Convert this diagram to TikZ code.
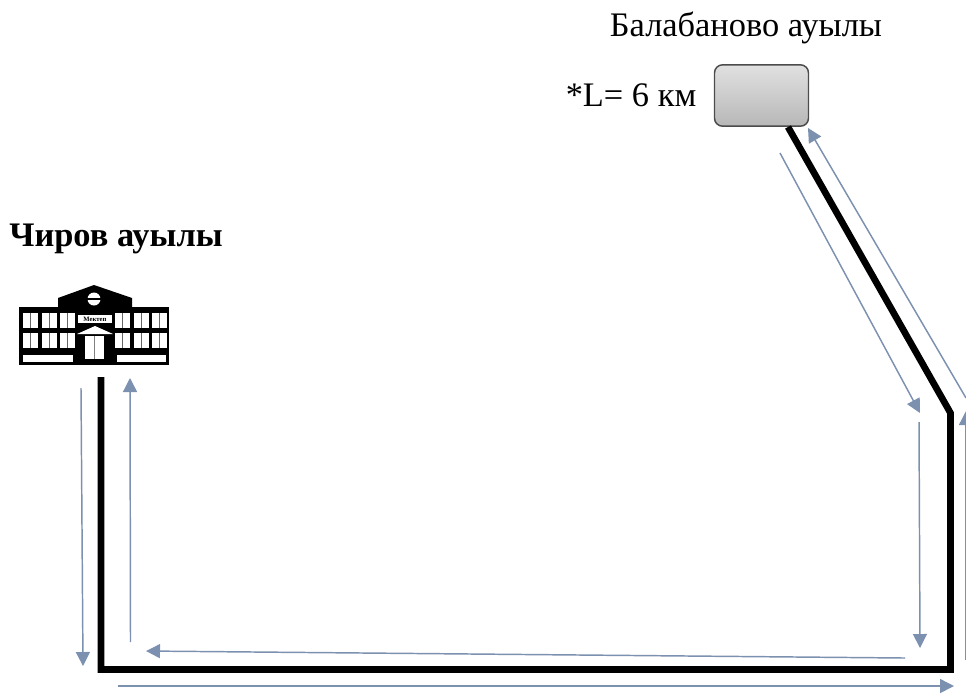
\documentclass[tikz,border=0pt]{standalone}
\usepackage{fontspec}
\setmainfont{Liberation Serif}
\usetikzlibrary{arrows.meta}
\definecolor{freccia}{RGB}{124,144,175}
\tikzset{
  strada/.style={line width=5pt,black,line join=miter},
  percorso/.style={freccia,line width=1.1pt,-{Triangle[length=10.5pt,width=10.5pt]}},
  finestra/.style={fill=white,draw=none}
}
\begin{document}
\begin{tikzpicture}[x=0.75pt,y=-0.75pt,font=\fontsize{25.8}{30}\selectfont]
  \useasboundingbox (0,0) rectangle (966,694);
  \node [rounded corners=6pt,draw=black!70,line width=1.1pt,top color=black!12,bottom color=black!28,minimum width=70.5pt,minimum height=46pt,inner sep=0pt] (ferma) at (761.5,95.5) {}; %fermata
  \node (balabanovo) at (746,28) {Балабаново ауылы};
  \node (lunghezza) at (631,95) {*L= 6 км};
  \node [font=\fontsize{25.8}{30}\selectfont\bfseries] (chirov) at (116,239) {Чиров ауылы};
  %edificio della scuola
  \fill (19,307) rectangle (169,365);
  \fill (58,307) -- (58,298) -- (94,285) -- (132,298) -- (132,307) -- cycle;
  \fill [white] (94,299) circle (6.5);
  \fill (86,298) rectangle (102,300);
  \foreach \y in {313,333}{
    \foreach \x in {23,42,60,115,134,152}{
      \fill [finestra] (\x,\y) rectangle +(14.5,14.5);
      \draw [black!60,line width=1pt] (\x+7.2,\y) -- +(0,14.5);
    }
  }
  \fill [finestra] (23,355) rectangle (73,362);
  \fill [finestra] (117,355) rectangle (166,362);
  \fill [finestra] (78,315) rectangle (112,323);
  \node [font=\fontsize{5}{6}\selectfont\bfseries,inner sep=0pt] (scuola) at (95,319.5) {Мектеп};
  \fill [finestra] (77,334) -- (95,326) -- (113,334) -- cycle;
  \fill [finestra] (85,336) rectangle (104,359);
  \draw [black!50,line width=1pt] (94.5,336) -- (94.5,359);
  %strada
  \coordinate (inizio) at (101,377);
  \coordinate (angoloA) at (101,669.5);
  \coordinate (angoloB) at (950.5,669.5);
  \coordinate (angoloC) at (950.5,413);
  \coordinate (fine) at (788,127);
  \draw [strada] (inizio) -- (angoloA) -- (angoloB) -- (angoloC) -- (fine);
  %frecce
  \coordinate (a1) at (81,388);
  \coordinate (a2) at (83,666);
  \coordinate (b1) at (130.5,642);
  \coordinate (b2) at (130,378);
  \coordinate (c1) at (905,658);
  \coordinate (c2) at (146,651);
  \coordinate (d1) at (118,686);
  \coordinate (d2) at (954,686);
  \coordinate (e1) at (919,422);
  \coordinate (e2) at (920,648);
  \coordinate (f1) at (780,153);
  \coordinate (f2) at (920,413);
  \coordinate (g1) at (966,398);
  \coordinate (g2) at (808,128);
  \coordinate (h1) at (966,660);
  \coordinate (h2) at (966,411);
  \draw [percorso] (a1) -- (a2);
  \draw [percorso] (b1) -- (b2);
  \draw [percorso] (c1) -- (c2);
  \draw [percorso] (d1) -- (d2);
  \draw [percorso] (e1) -- (e2);
  \draw [percorso] (f1) -- (f2);
  \draw [percorso] (g1) -- (g2);
  \draw [percorso] (h1) -- (h2);
\end{tikzpicture}
\end{document}
